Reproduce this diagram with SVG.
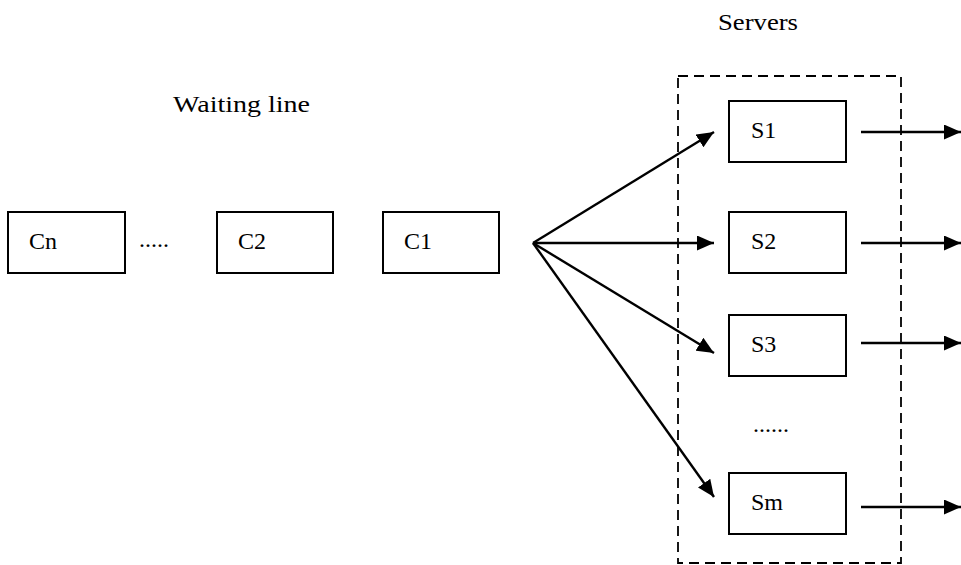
<svg xmlns="http://www.w3.org/2000/svg" width="961" height="565" viewBox="0 0 961 565">
<style>
.box{fill:#fff;stroke:#000;stroke-width:2}
.t{font-family:"Liberation Serif","DejaVu Serif",serif;font-size:24px;fill:#000}
.c{stroke:#000;stroke-width:2.4;fill:none;marker-end:url(#ah)}
.dash{fill:none;stroke:#000;stroke-width:1.8;stroke-dasharray:10 6}
</style>
<defs>
<marker id="ah" markerUnits="userSpaceOnUse" markerWidth="17" markerHeight="15" refX="17" refY="7.5" orient="auto">
<path d="M0,0 L17,7.5 L0,15 z" fill="#000"/>
</marker>
</defs>
<text class="t" x="718" y="30" textLength="80" lengthAdjust="spacingAndGlyphs">Servers</text>
<text class="t" x="173" y="112" textLength="137" lengthAdjust="spacingAndGlyphs">Waiting line</text>
<rect id="server-pool" class="dash" x="678" y="76" width="223" height="487"/>
<g id="Cn"><rect class="box" x="8" y="212" width="117" height="61"/><text class="t" x="29" y="249">Cn</text></g>
<g id="dots1"><text class="t" x="139" y="247">.....</text></g>
<g id="C2"><rect class="box" x="217" y="212" width="116" height="61"/><text class="t" x="238" y="249">C2</text></g>
<g id="C1"><rect class="box" x="383" y="212" width="116" height="61"/><text class="t" x="404" y="249">C1</text></g>
<g id="S1"><rect class="box" x="729" y="101" width="117" height="61"/><text class="t" x="751" y="138">S1</text></g>
<g id="S2"><rect class="box" x="729" y="212" width="117" height="61"/><text class="t" x="751" y="249">S2</text></g>
<g id="S3"><rect class="box" x="729" y="315" width="117" height="61"/><text class="t" x="751" y="352">S3</text></g>
<g id="dots2"><text class="t" x="753" y="432">......</text></g>
<g id="Sm"><rect class="box" x="729" y="473" width="117" height="61"/><text class="t" x="751" y="510">Sm</text></g>
<g id="connectors">
<line class="c" x1="533" y1="243" x2="714" y2="132"/>
<line class="c" x1="533" y1="243" x2="714" y2="243"/>
<line class="c" x1="533" y1="243" x2="714" y2="353"/>
<line class="c" x1="533" y1="243" x2="714" y2="497"/>
<line class="c" x1="861" y1="132" x2="961" y2="132"/>
<line class="c" x1="861" y1="243" x2="961" y2="243"/>
<line class="c" x1="861" y1="343" x2="961" y2="343"/>
<line class="c" x1="861" y1="507" x2="961" y2="507"/>
</g>
</svg>
